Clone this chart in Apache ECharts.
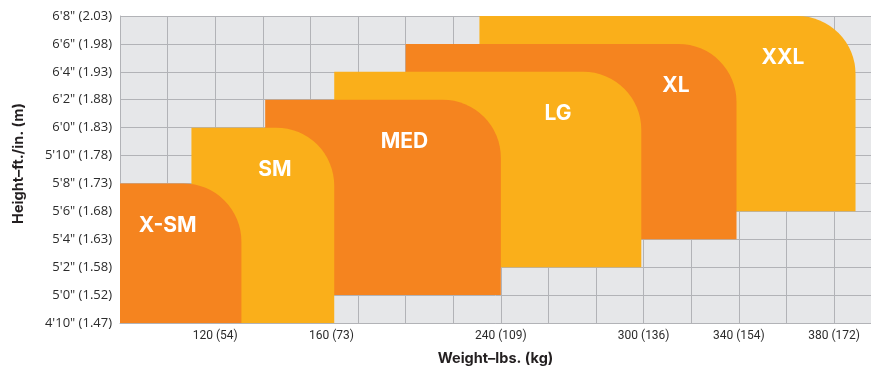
<!DOCTYPE html>
<html>
<head>
<meta charset="utf-8">
<script src="https://cdn.jsdelivr.net/npm/echarts@6/dist/echarts.min.js"></script>
<style>
  html, body { margin: 0; background: #ffffff; }
  #chart { width: 871px; height: 371px; }
</style>
</head>
<body>
<div id="chart"></div>
<script>
// size regions: weight range (lbs) x height range (inches)
const sizeNames = ['X-SM', 'SM', 'MED', 'LG', 'XL', 'XXL'];
const weightFrom = [80, 110, 141, 170, 200, 231];
const weightTo = [131, 170, 240, 299, 339, 389];
const heightFrom = [58, 58, 60, 62, 64, 66];
const heightTo = [68, 72, 74, 76, 78, 80];

// axis ticks
const heightTicks = [58, 60, 62, 64, 66, 68, 70, 72, 74, 76, 78, 80];
const heightTickLabels = ['4\'10" (1.47)', '5\'0" (1.52)', '5\'2" (1.58)', '5\'4" (1.63)', '5\'6" (1.68)',
  '5\'8" (1.73)', '5\'10" (1.78)', '6\'0" (1.83)', '6\'2" (1.88)', '6\'4" (1.93)', '6\'6" (1.98)', '6\'8" (2.03)'];
const weightTickValues = [120, 160, 240, 300, 340, 380];
const weightTickLabels = ['120 (54)', '160 (73)', '240 (109)', '300 (136)', '340 (154)', '380 (172)'];

const ORANGE = '#F5841F', YELLOW = '#FAAF1A';
const sizeColors = sizeNames.map((n, i) => i % 2 === 0 ? ORANGE : YELLOW);

// biggest size is drawn first, so smaller ones sit on top
const regions = sizeNames.map((name, i) => ({
  name: name,
  value: [weightFrom[i], weightTo[i], heightFrom[i], heightTo[i], i > 0 ? weightTo[i - 1] : weightFrom[i]],
  itemStyle: { color: sizeColors[i] }
})).reverse();

const chart = echarts.init(document.getElementById('chart'));
chart.setOption({
  animation: false,
  grid: {
    left: 120, right: 0, top: 16, bottom: 48,
    show: true, backgroundColor: '#E6E7E9', borderWidth: 0
  },
  xAxis: {
    type: 'value', min: 80, max: 395.5, interval: 20,
    name: 'Weight–lbs. (kg)', nameLocation: 'middle', nameGap: 28,
    nameTextStyle: { fontFamily: 'Inter', fontWeight: 'bold', fontSize: 14.5, color: '#231F20' },
    axisLine: { show: true, lineStyle: { color: '#B2B3B7', width: 1 } },
    axisTick: { show: false },
    splitLine: { show: true, lineStyle: { color: '#B2B3B7', width: 1 } },
    axisLabel: {
      margin: 7, color: '#2b2b2b', fontFamily: 'Roboto', fontSize: 12,
      showMaxLabel: false,
      formatter: function (v) {
        const k = weightTickValues.indexOf(v);
        if (k < 0) return '';
        return k === 1 ? '{shift|' + weightTickLabels[k] + '}' : weightTickLabels[k];
      },
      rich: { shift: { padding: [0, 0, 0, 42], color: '#2b2b2b', fontFamily: 'Roboto', fontSize: 12 } }
    }
  },
  yAxis: {
    type: 'value', min: 58, max: 80, interval: 2,
    name: 'Height–ft./in. (m)', nameLocation: 'middle', nameGap: 94, nameRotate: 90,
    nameTextStyle: { fontFamily: 'Inter', fontWeight: 'bold', fontSize: 14.5, color: '#231F20', padding: [0, 0, 0, 12] },
    axisLine: { show: true, lineStyle: { color: '#B2B3B7', width: 1 } },
    axisTick: { show: false },
    splitLine: { show: true, lineStyle: { color: '#B2B3B7', width: 1 } },
    axisLabel: {
      margin: 8, color: '#2b2b2b', fontFamily: 'Open Sans', fontSize: 13,
      formatter: function (v) {
        const k = heightTicks.indexOf(v);
        return k < 0 ? '' : heightTickLabels[k];
      }
    }
  },
  series: [{
    type: 'custom',
    clip: false,
    data: regions,
    renderItem: function (params, api) {
      const tl = api.coord([api.value(0), api.value(3)]);
      const br = api.coord([api.value(1), api.value(2)]);
      const mid = api.coord([(api.value(4) + api.value(1)) / 2, api.value(3) - 3]);
      return {
        type: 'group',
        children: [{
          type: 'rect',
          shape: { x: tl[0], y: tl[1], width: br[0] - tl[0], height: br[1] - tl[1], r: [0, 58, 0, 0] },
          style: { fill: api.visual('color') }
        }, {
          type: 'text',
          style: {
            text: regions[params.dataIndex].name,
            x: mid[0] - 13, y: mid[1],
            fill: '#ffffff', fontFamily: 'Inter', fontWeight: 'bold', fontSize: 21,
            align: 'center', verticalAlign: 'middle'
          }
        }]
      };
    }
  }]
});
</script>
</body>
</html>
